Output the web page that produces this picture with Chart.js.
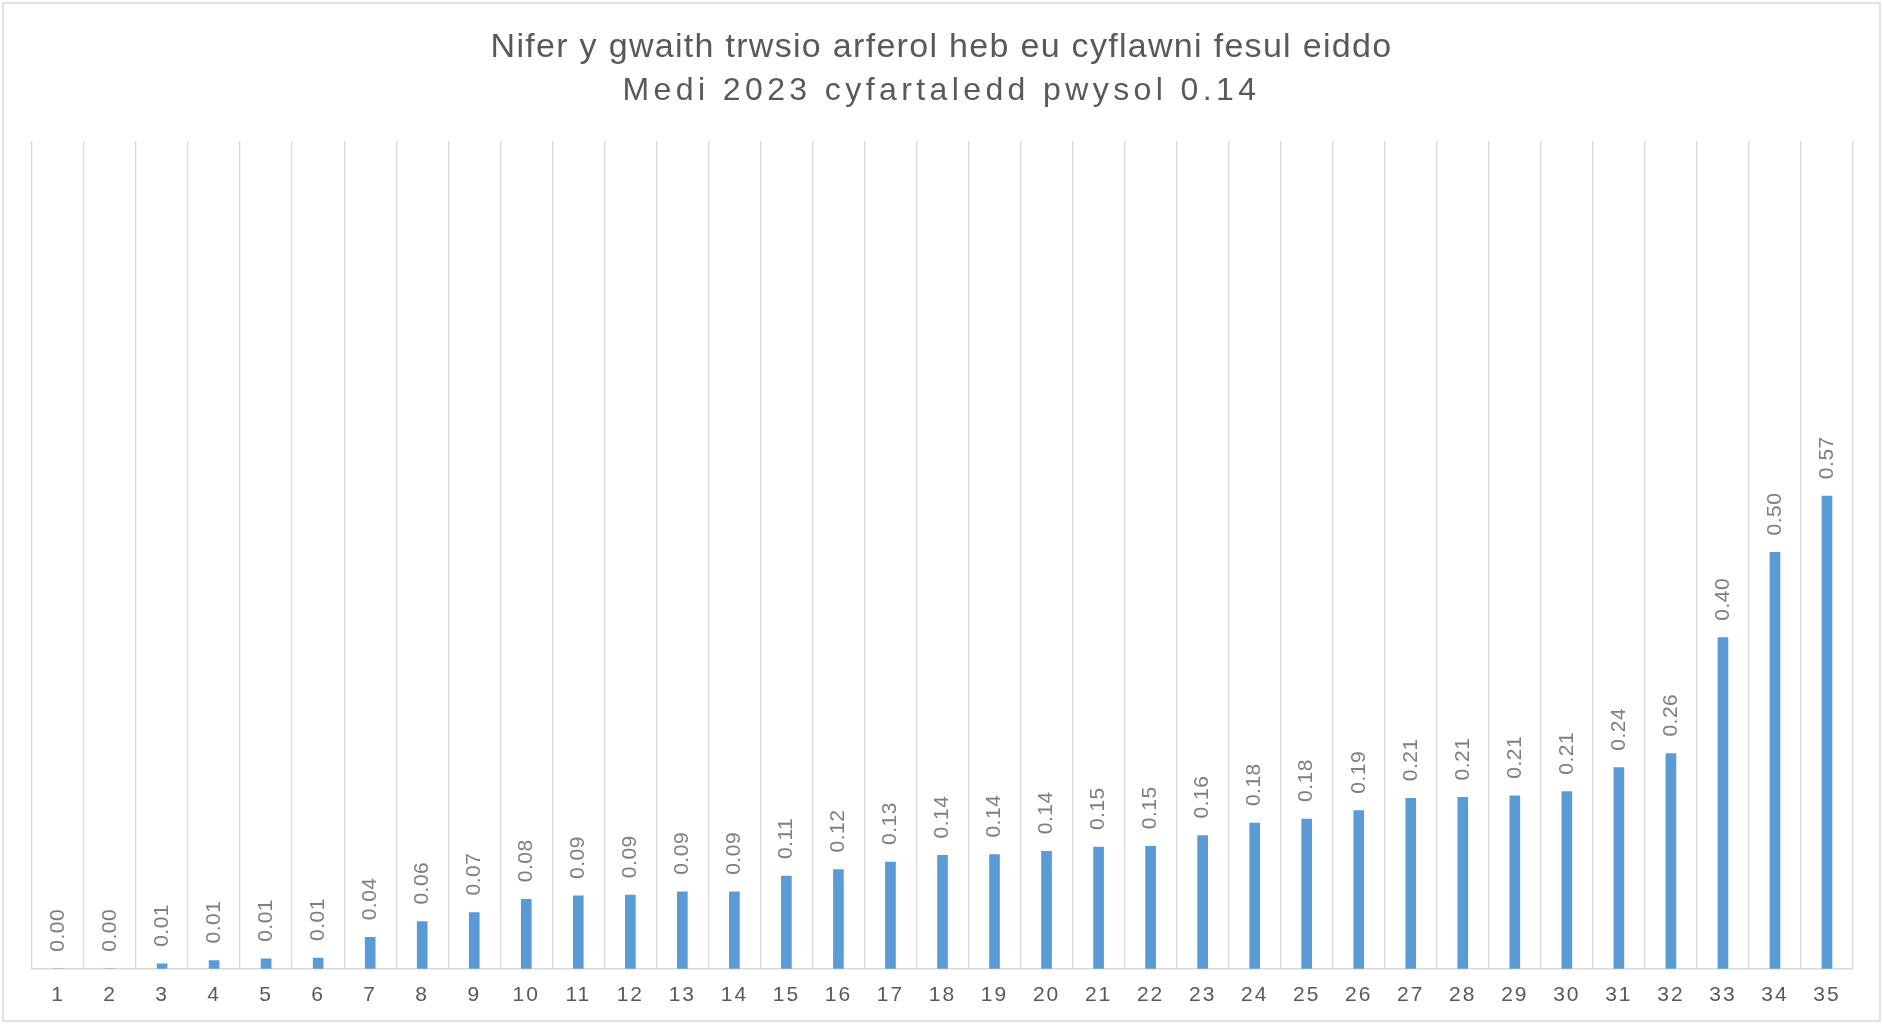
<!DOCTYPE html>
<html>
<head>
<meta charset="utf-8">
<script src="https://cdn.jsdelivr.net/npm/chart.js@4.4.1/dist/chart.umd.min.js"></script>
<style>
    body { margin: 0; background: #ffffff; }
    #wrap { position: relative; width: 1883px; height: 1024px; }
</style>
</head>
<body>
<div id="wrap"><canvas id="repairsChart"></canvas></div>
<script>
var titleLines = ["Nifer y gwaith trwsio arferol heb eu cyflawni fesul eiddo", "Medi 2023 cyfartaledd pwysol 0.14"];

var categories = ["1", "2", "3", "4", "5", "6", "7", "8", "9", "10",
    "11", "12", "13", "14", "15", "16", "17", "18", "19", "20",
    "21", "22", "23", "24", "25", "26", "27", "28", "29", "30",
    "31", "32", "33", "34", "35"];

var jobsPerProperty = [0.000, 0.000, 0.006, 0.010, 0.012, 0.013, 0.038, 0.057, 0.068, 0.084,
    0.088, 0.089, 0.093, 0.093, 0.112, 0.120, 0.129, 0.137, 0.138, 0.142,
    0.147, 0.148, 0.161, 0.176, 0.181, 0.191, 0.206, 0.207, 0.209, 0.214,
    0.243, 0.260, 0.400, 0.503, 0.571];

var yMin = 0;
var yMax = 1;

// title, value labels and outer frame
var decorPlugin = {
    id: "decor",
    beforeDraw: function (chart) {
        chart.ctx.letterSpacing = "2px";
    },
    beforeDatasetsDraw: function (chart) {
        chart.ctx.letterSpacing = "0px";
    },
    afterDatasetsDraw: function (chart) {
        var ctx = chart.ctx;
        var meta = chart.getDatasetMeta(0);
        ctx.save();
        ctx.letterSpacing = "0.5px";
        ctx.fillStyle = "#7f7f7f";
        ctx.font = "21px 'Liberation Sans', Arial, sans-serif";
        ctx.textAlign = "left";
        ctx.textBaseline = "middle";
        meta.data.forEach(function (bar, i) {
            ctx.save();
            ctx.translate(bar.x, bar.y - 17);
            ctx.rotate(-Math.PI / 2);
            ctx.fillText(jobsPerProperty[i].toFixed(2), 0, 0);
            ctx.restore();
        });
        ctx.restore();
    },
    afterDraw: function (chart) {
        var ctx = chart.ctx;
        ctx.save();
        ctx.strokeStyle = "#d9d9d9";
        ctx.lineWidth = 1.5;
        ctx.strokeRect(3, 3, chart.width - 6, chart.height - 6);

        ctx.fillStyle = "#595959";
        ctx.textAlign = "center";
        ctx.textBaseline = "alphabetic";
        ctx.font = "34px 'Liberation Sans', Arial, sans-serif";
        ctx.letterSpacing = "1.3px";
        ctx.fillText(titleLines[0], chart.width / 2, 57);
        ctx.font = "32px 'Liberation Sans', Arial, sans-serif";
        ctx.letterSpacing = "4.4px";
        ctx.fillText(titleLines[1], chart.width / 2, 100);
        ctx.restore();
    }
};

Chart.defaults.font.family = "'Liberation Sans', Arial, sans-serif";

new Chart(document.getElementById("repairsChart"), {
    type: "bar",
    data: {
        labels: categories,
        datasets: [
            {
                label: "Nifer",
                data: jobsPerProperty,
                backgroundColor: "#5b9bd5",
                barThickness: 10,
            },
        ],
    },
    options: {
        responsive: true,
        maintainAspectRatio: false,
        animation: false,
        layout: {
            padding: { top: 141, left: 32, right: 30, bottom: 2 },
        },
        plugins: {
            legend: { display: false },
            title: { display: false },
            tooltip: { enabled: false },
        },
        scales: {
            x: {
                grid: {
                    display: true,
                    offset: true,
                    color: "#d9d9d9",
                    lineWidth: 1.3,
                    drawTicks: false,
                },
                border: { display: true, color: "#d9d9d9", width: 1.5 },
                ticks: {
                    color: "#595959",
                    font: { size: 21 },
                    padding: 14,
                    maxRotation: 0,
                    autoSkip: false,
                },
            },
            y: {
                display: false,
                min: yMin,
                max: yMax,
            },
        },
    },
    plugins: [decorPlugin],
});
</script>
</body>
</html>
